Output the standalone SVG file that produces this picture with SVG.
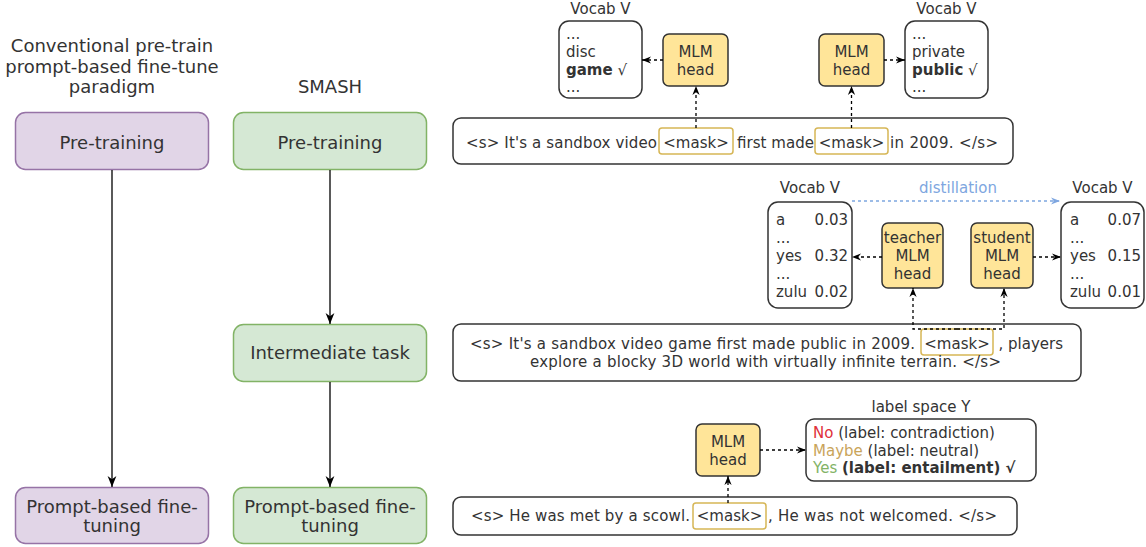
<svg xmlns="http://www.w3.org/2000/svg" width="1146" height="547" viewBox="0 0 1146 547">
<style>
text{font-family:"DejaVu Sans","Liberation Sans",sans-serif;fill:#333;font-size:15px}
.big{font-size:18px}
.c{text-anchor:middle}
.e{text-anchor:end}
.b{font-weight:bold}
.purple{fill:#e1d5e7;stroke:#9673a6;stroke-width:1.5}
.green{fill:#d5e8d4;stroke:#82b366;stroke-width:1.5}
.white{fill:#fff;stroke:#333;stroke-width:1.5}
.head{fill:#ffe599;stroke:#333;stroke-width:1.5}
.mask{fill:#fff;stroke:#d6b656;stroke-width:1.5}
.solid{fill:none;stroke:#000;stroke-width:1.3}
.dash{fill:none;stroke:#000;stroke-width:1.3;stroke-dasharray:3 3}
.dist{fill:none;stroke:#7ea6e0;stroke-width:1.3;stroke-dasharray:3 3}
</style>
<defs>
<marker id="ah" viewBox="0 0 10 10" refX="10" refY="5" markerWidth="9" markerHeight="9" markerUnits="userSpaceOnUse" orient="auto">
<path d="M0,1 L10,5 L0,9 L3,5 z" fill="#000"/>
</marker>
<marker id="ahBig" viewBox="0 0 10 10" refX="10" refY="5" markerWidth="11" markerHeight="11" markerUnits="userSpaceOnUse" orient="auto">
<path d="M0,1 L10,5 L0,9 L3,5 z" fill="#000"/>
</marker>
<marker id="ahBlue" viewBox="0 0 10 10" refX="10" refY="5" markerWidth="9" markerHeight="9" markerUnits="userSpaceOnUse" orient="auto">
<path d="M0,1 L10,5 L0,9 L3,5 z" fill="#7ea6e0"/>
</marker>
</defs>

<g id="titles">
<text class="big c" x="112" y="52">Conventional pre-train</text>
<text class="big c" x="112" y="73">prompt-based fine-tune</text>
<text class="big c" x="112" y="93">paradigm</text>
<text class="big c" x="330" y="93">SMASH</text>
</g>

<g id="conv-pretraining"><rect class="purple" x="15.5" y="112.5" width="193" height="57" rx="10"/><text class="big c" x="112" y="149">Pre-training</text></g>
<g id="conv-prompt"><rect class="purple" x="15.5" y="487.5" width="193" height="56" rx="10"/><text class="big c" x="112" y="513">Prompt-based fine-</text><text class="big c" x="112" y="532">tuning</text></g>
<g id="smash-pretraining"><rect class="green" x="233.5" y="112.5" width="193" height="57" rx="10"/><text class="big c" x="330" y="149">Pre-training</text></g>
<g id="smash-intermediate"><rect class="green" x="233.5" y="324.5" width="193" height="57" rx="10"/><text class="big c" x="330" y="359">Intermediate task</text></g>
<g id="smash-prompt"><rect class="green" x="233.5" y="487.5" width="193" height="56" rx="10"/><text class="big c" x="330" y="513">Prompt-based fine-</text><text class="big c" x="330" y="532">tuning</text></g>

<!-- top row -->
<g id="vocab1">
<text class="c" x="600.5" y="14">Vocab V</text>
<rect class="white" x="559" y="21" width="83" height="77" rx="10"/>
<text x="566" y="39">...</text>
<text x="566" y="57">disc</text>
<text x="566" y="74.5"><tspan class="b">game</tspan> √</text>
<text x="566" y="92">...</text>
</g>
<g id="head1"><rect class="head" x="663" y="34" width="65" height="52" rx="6"/><text class="c" x="695.5" y="57">MLM</text><text class="c" x="695.5" y="75">head</text></g>
<g id="head2"><rect class="head" x="819" y="34" width="65" height="52" rx="6"/><text class="c" x="851.5" y="57">MLM</text><text class="c" x="851.5" y="75">head</text></g>
<g id="vocab2">
<text class="c" x="946.5" y="14">Vocab V</text>
<rect class="white" x="905" y="21" width="83" height="77" rx="10"/>
<text x="912" y="39">...</text>
<text x="912" y="57">private</text>
<text x="912" y="74.5"><tspan class="b">public</tspan> √</text>
<text x="912" y="92">...</text>
</g>
<g id="sentence1">
<rect class="white" x="453" y="118" width="560" height="46" rx="8"/>
<rect class="mask" x="659" y="128" width="74" height="26" rx="3"/>
<rect class="mask" x="815" y="128" width="73" height="26" rx="3"/>
<text x="466" y="148" textLength="191" lengthAdjust="spacing">&lt;s&gt; It's a sandbox video</text>
<text class="c" x="696" y="148">&lt;mask&gt;</text>
<text x="737" y="148" textLength="77" lengthAdjust="spacing">first made</text>
<text class="c" x="851.5" y="148">&lt;mask&gt;</text>
<text x="890" y="148" textLength="108" lengthAdjust="spacing">in 2009. &lt;/s&gt;</text>
</g>

<!-- middle row -->
<g id="vocab3">
<text class="c" x="810" y="193">Vocab V</text>
<rect class="white" x="768" y="202" width="84" height="106" rx="10"/>
<text x="776" y="225">a</text><text class="e" x="848" y="225">0.03</text>
<text x="776" y="243">...</text>
<text x="776" y="261">yes</text><text class="e" x="848" y="261">0.32</text>
<text x="776" y="279">...</text>
<text x="776" y="297">zulu</text><text class="e" x="848" y="297">0.02</text>
</g>
<g id="teacher-head"><rect class="head" x="882" y="223" width="61" height="65" rx="6"/><text class="c" x="912.5" y="243">teacher</text><text class="c" x="912.5" y="261">MLM</text><text class="c" x="912.5" y="279">head</text></g>
<g id="student-head"><rect class="head" x="971" y="223" width="62" height="65" rx="6"/><text class="c" x="1002" y="243">student</text><text class="c" x="1002" y="261">MLM</text><text class="c" x="1002" y="279">head</text></g>
<g id="vocab4">
<text class="c" x="1102.5" y="193">Vocab V</text>
<rect class="white" x="1061" y="202" width="83" height="106" rx="10"/>
<text x="1070" y="225">a</text><text class="e" x="1141" y="225">0.07</text>
<text x="1070" y="243">...</text>
<text x="1070" y="261">yes</text><text class="e" x="1141" y="261">0.15</text>
<text x="1070" y="279">...</text>
<text x="1070" y="297">zulu</text><text class="e" x="1141" y="297">0.01</text>
</g>
<g id="sentence2">
<rect class="white" x="453" y="324" width="628" height="57" rx="8"/>
<rect class="mask" x="921" y="329" width="72" height="26" rx="3"/>
<text x="470" y="349" textLength="445" lengthAdjust="spacing">&lt;s&gt; It's a sandbox video game first made public in 2009.</text>
<text class="c" x="957" y="349">&lt;mask&gt;</text>
<text class="e" x="1063" y="349">, players</text>
<text x="530" y="367" textLength="471" lengthAdjust="spacing">explore a blocky 3D world with virtually infinite terrain. &lt;/s&gt;</text>
</g>

<!-- bottom row -->
<g id="label-space">
<text class="c" x="921" y="412">label space Y</text>
<rect class="white" x="806" y="419" width="230" height="62" rx="8"/>
<text x="813" y="438"><tspan fill="#e0303a">No</tspan> (label: contradiction)</text>
<text x="813" y="456"><tspan fill="#c9a45a">Maybe</tspan> (label: neutral)</text>
<text x="813" y="473"><tspan fill="#82b366">Yes</tspan> <tspan class="b">(label: entailment) √</tspan></text>
</g>
<g id="head3"><rect class="head" x="696" y="424" width="64" height="52" rx="6"/><text class="c" x="728" y="447">MLM</text><text class="c" x="728" y="465">head</text></g>
<g id="sentence3">
<rect class="white" x="453" y="497" width="564" height="38" rx="8"/>
<rect class="mask" x="693" y="503" width="73" height="26" rx="3"/>
<text x="471" y="521" textLength="219" lengthAdjust="spacing">&lt;s&gt; He was met by a scowl.</text>
<text class="c" x="729.5" y="521">&lt;mask&gt;</text>
<text x="768" y="521" textLength="229" lengthAdjust="spacing">, He was not welcomed. &lt;/s&gt;</text>
</g>

<g id="connectors">
<line class="solid" x1="112" y1="170" x2="112" y2="487" marker-end="url(#ahBig)"/>
<line class="solid" x1="330" y1="170" x2="330" y2="324" marker-end="url(#ahBig)"/>
<line class="solid" x1="330" y1="382" x2="330" y2="487" marker-end="url(#ahBig)"/>
<line class="dash" x1="696" y1="128" x2="696" y2="86" marker-end="url(#ah)"/>
<line class="dash" x1="851.5" y1="128" x2="851.5" y2="86" marker-end="url(#ah)"/>
<line class="dash" x1="663" y1="60" x2="642" y2="60" marker-end="url(#ah)"/>
<line class="dash" x1="884" y1="60" x2="905" y2="60" marker-end="url(#ah)"/>
<line class="dash" x1="882" y1="257" x2="852" y2="257" marker-end="url(#ah)"/>
<line class="dash" x1="1033" y1="257" x2="1061" y2="257" marker-end="url(#ah)"/>
<path class="dash" d="M957,329 H913 V288" marker-end="url(#ah)"/>
<path class="dash" d="M957,329 H1004 V288" marker-end="url(#ah)"/>
<line class="dist" x1="852" y1="201" x2="1060" y2="201" marker-end="url(#ahBlue)"/>
<text class="c" x="958" y="193" style="fill:#7ea6e0">distillation</text>
<line class="dash" x1="760" y1="450" x2="806" y2="450" marker-end="url(#ah)"/>
<line class="dash" x1="728" y1="503" x2="728" y2="476" marker-end="url(#ah)"/>
</g>
</svg>
